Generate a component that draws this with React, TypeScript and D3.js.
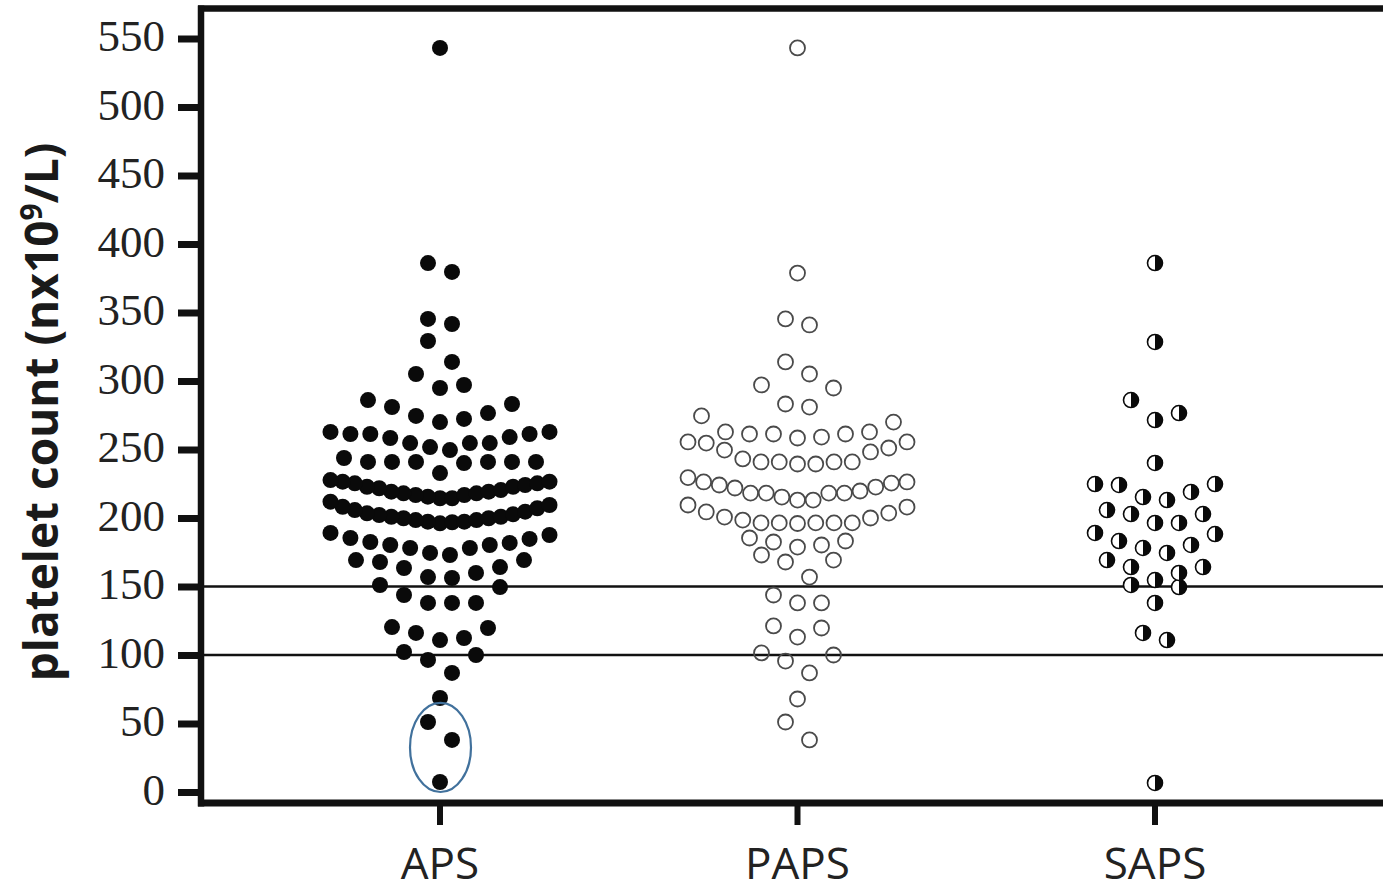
import React, { useEffect, useRef } from "react";
import * as d3 from "d3";

// groups on the x axis
const categories = ["APS", "PAPS", "SAPS"];

// platelet counts (n x 10^9/L)
const apsValues = [
  543.1,
  386.1, 379.6,
  345.3, 341.6, 329.2,
  313.9, 305.1,
  297.1, 294.9,
  286.1, 281.0, 274.5, 270.0, 272.3, 276.6, 283.2,
  262.8, 261.3, 261.3, 258.4, 254.7, 251.8, 249.6, 254.7, 254.7, 259.1, 261.3, 262.8,
  240.9, 240.9, 240.1, 243.8, 240.9, 240.9, 240.9, 240.9, 232.8,
  226.5, 225.3, 224.1, 222.8, 220.4, 219.2, 218.0, 216.8, 214.4, 214.4,
  215.6, 216.8, 218.0, 219.2, 221.7, 222.8, 225.3, 226.5, 227.7,
  211.9, 208.2, 205.8, 203.4, 202.2, 200.9, 199.8, 198.5, 197.3, 196.1,
  196.9, 197.3, 198.5, 199.8, 200.9, 202.7, 204.6, 207.1, 209.5,
  189.1, 185.4, 182.5, 180.3, 178.1, 174.5, 173.0, 178.1, 180.3, 181.8, 184.7, 187.6,
  169.3, 164.2, 159.9, 156.2, 156.9, 163.5, 167.9, 169.3,
  151.1, 143.8, 138.0, 138.0, 138.0, 149.6,
  120.4, 116.1, 110.9, 112.4, 119.7,
  102.2, 96.4, 100.0, 86.9,
  68.6, 51.1, 38.0, 7.3,
];

const papsValues = [
  543.1, 378.8, 345.3, 340.9, 313.9, 305.1, 297.1, 294.9, 283.2, 281.0, 274.5, 270.0,
  262.8, 261.3, 261.3, 258.4, 259.1, 261.3, 262.8,
  254.7, 251.1, 248.2, 249.6, 255.5, 255.5,
  240.9, 240.9, 239.4, 239.4, 240.9, 240.9, 243.1,
  229.5, 226.3, 224.1, 221.9, 218.2, 218.2, 213.1, 215.3, 213.1,
  218.2, 218.2, 219.7, 222.6, 225.5, 226.3,
  209.5, 204.4, 200.7, 198.5, 196.4, 196.4, 196.4, 196.4, 196.4, 200.0, 196.0, 203.6, 208.0,
  185.4, 182.5, 178.8, 180.3, 183.2,
  173.0, 167.9, 169.3, 156.9,
  143.8, 138.0, 138.0,
  119.7, 121.2, 113.1,
  100.0, 101.5, 95.6, 86.9,
  67.9, 51.1, 38.0,
];

const sapsValues = [
  386.1, 328.5, 286.1, 276.6, 271.5, 240.2,
  224.8, 224.1, 224.8, 219.0, 215.3, 213.1,
  205.8, 202.9, 202.9, 196.4, 196.4,
  189.1, 188.3, 183.2, 180.3, 178.1, 174.5,
  169.3, 164.2, 164.2, 159.9,
  154.7, 151.1, 149.6, 138.0,
  116.1, 110.9, 6.6,
];

const yTicks = [0, 50, 100, 150, 200, 250, 300, 350, 400, 450, 500, 550];
const refLines = [100, 150];

// value range circled in the APS column
const highlightRange = [0, 65];

// prism-like column scatter: values are grouped into rows, smallest in the middle
const swarm = (values: number[], rowSpan: number, step: number, maxWidth: number) => {
  const sorted = values.slice().sort((a, b) => a - b);
  const out: { v: number; dx: number }[] = [];
  let i = 0;
  while (i < sorted.length) {
    const start = sorted[i];
    const row: number[] = [];
    while (i < sorted.length && sorted[i] <= start + rowSpan) row.push(sorted[i++]);
    const k = row.length;
    const sp = k > 1 ? Math.min(step, maxWidth / (k - 1)) : 0;
    row.forEach((v, j) => {
      let off;
      if (k % 2 === 1) {
        const m = Math.ceil(j / 2);
        off = j === 0 ? 0 : (j % 2 === 1 ? m : -m);
      } else {
        const m = Math.floor(j / 2) + 0.5;
        off = j % 2 === 0 ? m : -m;
      }
      out.push({ v, dx: off * sp });
    });
  }
  return out;
};

const App = () => {
  const chartRef = useRef<SVGSVGElement | null>(null);

  useEffect(() => {
    drawChart();
  }, []);

  const drawChart = () => {
    const width = 1383, height = 892;
    const axisX = 201, axisY = 803, frameTop = 8.5;

    const svg = d3.select(chartRef.current);
    svg.selectAll("*").remove();

    svg.append("rect").attr("width", width).attr("height", height).attr("fill", "#fff");

    const y = d3.scaleLinear().domain([0, 550]).range([792, 38.5]);
    const x = d3.scalePoint<string>().domain(categories).range([440, 1155]);

    // reference lines
    svg.selectAll(".ref")
      .data(refLines)
      .join("line")
      .attr("x1", axisX)
      .attr("x2", width)
      .attr("y1", d => y(d))
      .attr("y2", d => y(d))
      .attr("stroke", "#111")
      .attr("stroke-width", 2.5);

    // y axis
    const yAxis = d3.axisLeft(y).tickValues(yTicks).tickSize(23).tickPadding(13);
    const gy = svg.append("g").attr("transform", `translate(${axisX},0)`).call(yAxis);
    gy.select(".domain").remove();
    gy.selectAll(".tick line").attr("stroke", "#111").attr("stroke-width", 7);
    gy.selectAll(".tick text")
      .attr("fill", "#222")
      .attr("dy", "0.27em")
      .style("font-family", "'Liberation Serif', 'Times New Roman', serif")
      .style("font-size", "45px");

    // x axis ticks + labels
    const gx = svg.append("g");
    gx.selectAll("line")
      .data(categories)
      .join("line")
      .attr("x1", d => x(d)!)
      .attr("x2", d => x(d)!)
      .attr("y1", axisY)
      .attr("y2", axisY + 22)
      .attr("stroke", "#111")
      .attr("stroke-width", 6);
    gx.selectAll("text")
      .data(categories)
      .join("text")
      .attr("x", d => x(d)!)
      .attr("y", 879)
      .attr("text-anchor", "middle")
      .attr("fill", "#222")
      .style("font-family", "'Open Sans', sans-serif")
      .style("font-size", "44px")
      .text(d => d);

    // frame
    svg.append("line").attr("x1", axisX - 3).attr("x2", width).attr("y1", frameTop).attr("y2", frameTop)
      .attr("stroke", "#111").attr("stroke-width", 6.5);
    svg.append("line").attr("x1", axisX - 3).attr("x2", width).attr("y1", axisY).attr("y2", axisY)
      .attr("stroke", "#111").attr("stroke-width", 7);
    svg.append("line").attr("x1", axisX).attr("x2", axisX).attr("y1", frameTop - 3).attr("y2", axisY + 3.5)
      .attr("stroke", "#111").attr("stroke-width", 6.5);

    // y title
    const title = svg.append("text")
      .attr("transform", "translate(58,412) rotate(-90)")
      .attr("text-anchor", "middle")
      .attr("fill", "#1a1a1a")
      .style("font-family", "'Open Sans', sans-serif")
      .style("font-weight", "700")
      .style("font-size", "46px");
    title.append("tspan").text("platelet count (nx10");
    title.append("tspan").attr("dy", -16).style("font-size", "30px").text("9");
    title.append("tspan").attr("dy", 16).text("/L)");

    const step = 24, maxWidth = 219, rowSpan = 16.5;

    // APS: filled
    svg.append("g")
      .selectAll("circle")
      .data(swarm(apsValues, rowSpan, step, maxWidth))
      .join("circle")
      .attr("cx", d => x("APS")! + d.dx)
      .attr("cy", d => y(d.v))
      .attr("r", 8)
      .attr("fill", "#0a0a0a");

    // PAPS: open
    svg.append("g")
      .selectAll("circle")
      .data(swarm(papsValues, rowSpan, step, maxWidth))
      .join("circle")
      .attr("cx", d => x("PAPS")! + d.dx)
      .attr("cy", d => y(d.v))
      .attr("r", 7.5)
      .attr("fill", "none")
      .attr("stroke", "#4a4a4a")
      .attr("stroke-width", 1.8);

    // SAPS: half filled (right half black)
    const saps = svg.append("g")
      .selectAll("g")
      .data(swarm(sapsValues, rowSpan, step, maxWidth))
      .join("g")
      .attr("transform", d => `translate(${x("SAPS")! + d.dx},${y(d.v)})`);
    const r = 7.5;
    saps.append("circle").attr("r", r).attr("fill", "#fff").attr("stroke", "#0a0a0a").attr("stroke-width", 1.6);
    saps.append("path")
      .attr("d", `M0,${-r} A${r},${r} 0 0 1 0,${r} Z`)
      .attr("fill", "#0a0a0a");

    // blue ellipse around the lowest APS counts
    svg.append("ellipse")
      .attr("cx", x("APS")! + 0.5)
      .attr("cy", (y(highlightRange[0]) + y(highlightRange[1])) / 2)
      .attr("rx", 30.5)
      .attr("ry", (y(highlightRange[0]) - y(highlightRange[1])) / 2)
      .attr("fill", "none")
      .attr("stroke", "#41719c")
      .attr("stroke-width", 2.2);
  };

  return (
    <svg
      ref={chartRef}
      width={1383}
      height={892}
      style={{ position: "absolute", left: 0, top: 0, display: "block" }}
    />
  );
};

export default App;
